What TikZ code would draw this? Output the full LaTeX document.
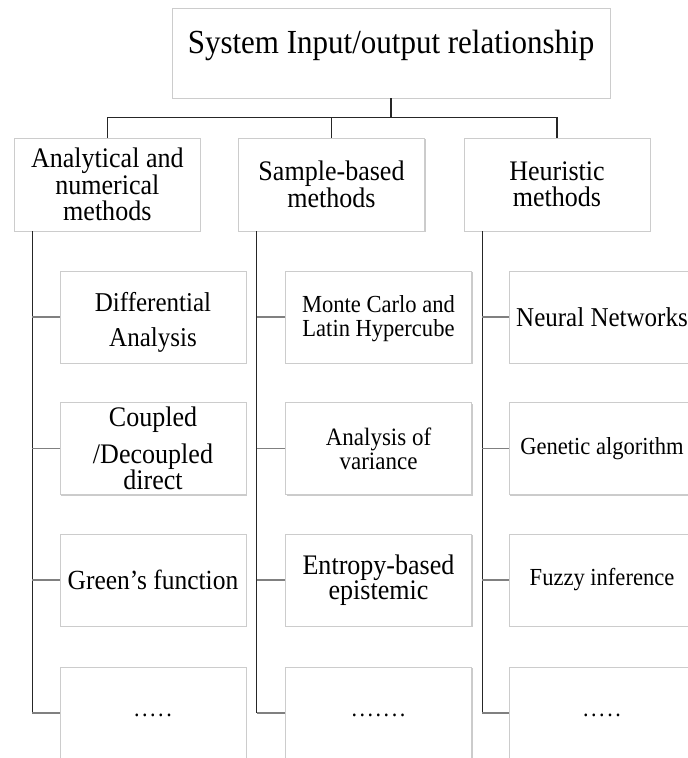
\documentclass[tikz,border=0pt]{standalone}
\usepackage{fontspec}
\setmainfont{Liberation Serif}[FakeStretch=0.92]
\usetikzlibrary{shadows,calc}
\newcommand\txtsize[2]{\fontsize{#1pt}{#2pt}\selectfont}
\begin{document}
\begin{tikzpicture}[x=1pt,y=-1pt,
  box/.style={draw=black!20, line width=0.9pt, fill=white, inner sep=0pt, align=center,
    drop shadow={shadow xshift=1.1pt, shadow yshift=-1.3pt, fill=black!45, opacity=0.45}},
  topbox/.style={box, minimum width=438pt, minimum height=90pt},
  headbox/.style={box, minimum width=186pt, minimum height=93pt, font=\txtsize{28.3}{26.5}},
  leafbox/.style={box, minimum width=186pt, minimum height=92pt},
  trunk/.style={draw=black!85, line width=1.1pt},
  twig/.style={draw=black!50, line width=1.4pt},
]
\useasboundingbox (0,0) rectangle (688,758);
\fill[white] (0,0) rectangle (688,758);
\clip (0,0) rectangle (688,758);

% root
\node[topbox, font=\txtsize{33.7}{35}, text depth=23pt] (top) at (391,53)
  {System Input/output relationship};

% method families
\node[headbox] (h1) at (107.3,184.5) {Analytical and\\numerical\\methods};
\node[headbox] (h2) at (331.5,184.5) {Sample-based\\methods};
\node[headbox] (h3) at (557,184.5) {Heuristic\\methods};

% analytical and numerical
\node[leafbox, font=\txtsize{27.2}{35}] (a1) at (153,317) {\rule{0pt}{30pt}Differential\\Analysis};
\node[leafbox, font=\txtsize{28.3}{26}] (a2) at (153,448.5) {Coupled\\[11pt]/Decoupled\\direct};
\node[leafbox, font=\txtsize{27.7}{27}] (a3) at (153,580) {Green’s function};
\node[leafbox, font=\txtsize{24}{24}] (a4) at (153,713) {\rule{0pt}{8pt}.\kern2.5pt.\kern2.5pt.\kern2.5pt.\kern2.5pt.};

% sample-based
\node[leafbox, font=\txtsize{24.5}{24}] (b1) at (378.5,317) {\rule{0pt}{21pt}Monte Carlo and\\Latin Hypercube};
\node[leafbox, font=\txtsize{25}{24}] (b2) at (378.5,448.5) {Analysis of\\variance};
\node[leafbox, font=\txtsize{28.3}{25.5}] (b3) at (378.5,580) {Entropy-based\\epistemic};
\node[leafbox, font=\txtsize{24}{24}] (b4) at (378.5,713) {\rule{0pt}{8pt}.\kern2.5pt.\kern2.5pt.\kern2.5pt.\kern2.5pt.\kern2.5pt.\kern2.5pt.};

% heuristic
\node[leafbox, font=\txtsize{27.2}{27}] (c1) at (602,317) {Neural Networks};
\node[leafbox, font=\txtsize{24.5}{24}] (c2) at (602,448.5) {Genetic algorithm};
\node[leafbox, font=\txtsize{24.5}{24}] (c3) at (602,580) {Fuzzy inference};
\node[leafbox, font=\txtsize{24}{24}] (c4) at (602,713) {\rule{0pt}{8pt}.\kern2.5pt.\kern2.5pt.\kern2.5pt.\kern2.5pt.};

% root to families
\draw[trunk] (top.south) -- ++(0,20);
\draw[trunk] (h1.north) -- ++(0,-20) -| (h3.north);
\draw[trunk] (h2.north) -- ++(0,-20);

% spines under each family
\foreach \h/\l in {h1/a, h2/b, h3/c} {
  \coordinate (\h s) at ($(\h.south west)+(18.5,0)$);
  \draw[trunk] (\h s) -- (\l4.west -| \h s);
  \foreach \r in {1,2,3,4}
    \draw[twig] (\l\r.west) -- (\l\r.west -| \h s);
}
\end{tikzpicture}
\end{document}
